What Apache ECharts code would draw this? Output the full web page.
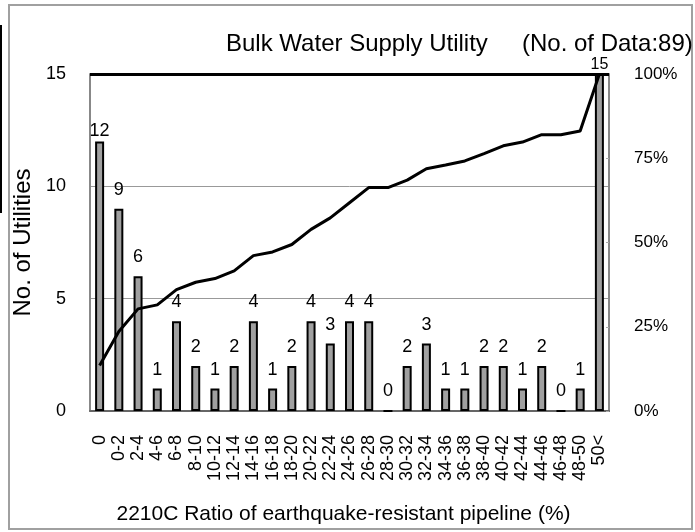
<!DOCTYPE html>
<html>
<head>
    <meta charset="utf-8">
    <title>Bulk Water Supply Utility</title>
    <script src="https://cdn.jsdelivr.net/npm/echarts@6/dist/echarts.min.js"></script>
    <style>
        html, body { margin: 0; padding: 0; background: #fff; }
        #chart { width: 695px; height: 532px; }
    </style>
</head>
<body>
<div id="chart"></div>
<script type="text/javascript">
    // categories (ratio of earthquake-resistant pipeline, %)
    var categories = ['0', '0-2', '2-4', '4-6', '6-8', '8-10', '10-12', '12-14', '14-16', '16-18',
        '18-20', '20-22', '22-24', '24-26', '26-28', '28-30', '30-32', '32-34', '34-36', '36-38',
        '38-40', '40-42', '42-44', '44-46', '46-48', '48-50', '50<'];
    // number of utilities in each class
    var counts = [12, 9, 6, 1, 4, 2, 1, 2, 4, 1, 2, 4, 3, 4, 4, 0, 2, 3, 1, 1, 2, 2, 1, 2, 0, 1, 15];
    // cumulative share (%)
    var cumulative = [13.5, 23.6, 30.3, 31.5, 36.0, 38.2, 39.3, 41.6, 46.1, 47.2, 49.4, 53.9, 57.3, 61.8,
        66.3, 66.3, 68.5, 71.9, 73.0, 74.2, 76.4, 78.7, 79.8, 82.0, 82.0, 83.1, 100];
    var leftTicks = [0, 5, 10, 15];
    var rightTicks = [0, 25, 50, 75, 100];

    var font = 'Liberation Sans, Arial, sans-serif';
    var myChart = echarts.init(document.getElementById('chart'));

    // 第一根和最后一根柱子的标签离柱顶更近
    var barData = counts.map(function (v, i) {
        if (i === 0) return { value: v, label: { distance: 1 } };
        if (i === counts.length - 1) return { value: v, label: { distance: 1, fontSize: 16 } };
        return v;
    });

    myChart.setOption({
        animation: false,
        textStyle: { fontFamily: font, color: '#000' },
        title: [{
            text: 'Bulk Water Supply Utility',
            left: 221, top: 27,
            textStyle: { fontFamily: font, fontSize: 24, fontWeight: 'normal', color: '#000' }
        }, {
            text: '(No. of Data:89)',
            left: 517, top: 27,
            textStyle: { fontFamily: font, fontSize: 24, fontWeight: 'normal', color: '#000' }
        }],
        graphic: [{
            type: 'rect',
            shape: { x: 9, y: 5, width: 683, height: 524 },
            style: { fill: 'none', stroke: '#a0a0a0', lineWidth: 2 }
        }, {
            type: 'line',
            shape: { x1: 1, y1: 25, x2: 1, y2: 213 },
            style: { stroke: '#000', lineWidth: 2 }
        }],
        grid: { left: 90, right: 86, top: 74, bottom: 121 },
        xAxis: {
            type: 'category',
            data: categories,
            name: '2210C Ratio of earthquake-resistant pipeline (%)',
            nameLocation: 'middle',
            nameGap: 93,
            nameTextStyle: { fontSize: 21, color: '#000', fontFamily: font, padding: [0, 12, 0, 0] },
            axisLine: { lineStyle: { color: '#666', width: 2 } },
            axisTick: { show: false },
            axisLabel: { rotate: 90, interval: 0, margin: 24, fontSize: 18, color: '#000', fontFamily: font }
        },
        yAxis: [{
            type: 'value',
            min: leftTicks[0],
            max: leftTicks[leftTicks.length - 1],
            interval: 5,
            name: 'No. of Utilities',
            nameLocation: 'middle',
            nameGap: 43,
            nameTextStyle: { fontSize: 24, color: '#000', fontFamily: font },
            axisLine: { show: true, lineStyle: { color: '#888', width: 2 } },
            axisTick: { show: false },
            axisLabel: { margin: 24, fontSize: 18, color: '#000', fontFamily: font },
            splitLine: { show: true, lineStyle: { color: '#999', width: 1 } }
        }, {
            type: 'value',
            min: rightTicks[0],
            max: rightTicks[rightTicks.length - 1],
            interval: 25,
            position: 'right',
            axisLine: { show: true, lineStyle: { color: '#888', width: 2 } },
            axisTick: { show: true, inside: true, length: 3, lineStyle: { color: '#aaa' } },
            axisLabel: { margin: 25, fontSize: 17, color: '#000', fontFamily: font, formatter: '{value}%' },
            splitLine: { show: false }
        }],
        series: [{
            name: 'No. of Utilities',
            type: 'bar',
            data: barData,
            barWidth: 9,
            itemStyle: { color: '#a0a0a0', borderColor: '#000', borderWidth: 2 },
            label: { show: true, position: 'top', distance: 10, fontSize: 18, color: '#000', fontFamily: font },
            markLine: {
                symbol: 'none',
                silent: true,
                label: { show: false },
                lineStyle: { color: '#000', width: 3, type: 'solid' },
                data: [{ yAxis: 15 }]
            }
        }, {
            name: 'Cumulative',
            type: 'line',
            yAxisIndex: 1,
            data: cumulative,
            showSymbol: false,
            symbol: 'none',
            lineStyle: { color: '#000', width: 3 },
            z: 5
        }]
    });
</script>
</body>
</html>
